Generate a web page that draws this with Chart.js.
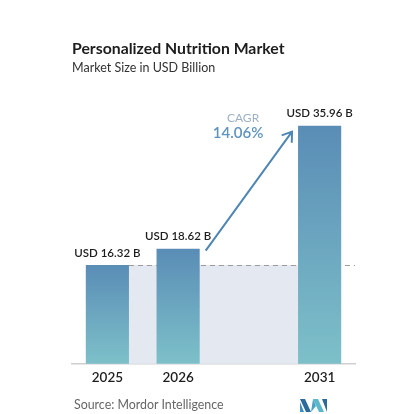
<!DOCTYPE html>
<html>
<head>
<meta charset="utf-8">
<script src="https://cdn.jsdelivr.net/npm/chart.js@4"></script>
<style>
  body { margin:0; background:#fff; font-family: Lato, "Open Sans", sans-serif; }
  #wrap { position:relative; width:415px; height:414px; }
  #title { position:absolute; left:72px; top:38px; font-size:15.8px; font-weight:700; color:#1d1d1d; }
  #subtitle { position:absolute; left:72px; top:60px; font-size:12.5px; color:#333; }
  #source { position:absolute; left:74px; top:397px; font-size:12.4px; color:#666; }
  #logo { position:absolute; left:300px; top:399px; }
  #box { position:absolute; left:0; top:0; width:415px; height:414px; }
</style>
</head>
<body>
<div id="wrap">
  <div id="box"><canvas id="mkt"></canvas></div>
  <div id="title">Personalized Nutrition Market</div>
  <div id="subtitle">Market Size in USD Billion</div>
  <div id="source">Source: Mordor Intelligence</div>
  <svg id="logo" width="27" height="13" viewBox="0 0 27 13">
    <polygon points="0,0 5,0 11,13 6,13" fill="#2b6a9b"/>
    <polygon points="0,3 4,13 0,13" fill="#3f8fc0"/>
    <polygon points="13,0 18,0 24,13 19,13" fill="#5bb7c9"/>
    <polygon points="22,0 27,0 27,13" fill="#2b6a9b"/>
    <polygon points="11,13 13,0 16,7" fill="#4aa3c4"/>
  </svg>
</div>
<script>
var years = ["2025", "2026", "", "2031"];
var values = [16.32, 18.62, null, 35.96];
var valueLabels = ["USD 16.32 B", "USD 18.62 B", "", "USD 35.96 B"];
var cagrLabel = "CAGR";
var cagrValue = "14.06%";

var annotate = {
  id: 'annotate',
  beforeDatasetsDraw: function(chart){
    var ctx = chart.ctx, area = chart.chartArea;
    var bars = chart.getDatasetMeta(0).data;
    var yBase = chart.scales.y.getPixelForValue(values[0]);
    var x0 = bars[0].x + bars[0].width/2;
    var x1 = bars[3].x - bars[3].width/2;
    ctx.save();
    ctx.fillStyle = '#e4e9f1';
    ctx.fillRect(x0, yBase, x1 - x0, area.bottom - yBase);
    ctx.strokeStyle = '#9a9a9a';
    ctx.lineWidth = 1;
    ctx.setLineDash([5,4]);
    ctx.beginPath();
    ctx.moveTo(x0, yBase + 0.5);
    ctx.lineTo(area.right, yBase + 0.5);
    ctx.stroke();
    ctx.restore();
  },
  afterDatasetsDraw: function(chart){
    var ctx = chart.ctx;
    var bars = chart.getDatasetMeta(0).data;
    ctx.save();
    ctx.fillStyle = '#1d1d1d';
    ctx.font = '600 11.5px Lato, sans-serif';
    ctx.textAlign = 'center';
    ctx.textBaseline = 'middle';
    bars.forEach(function(b, i){
      if (values[i] == null) return;
      ctx.fillText(valueLabels[i], b.x, b.y - 12);
    });
    // arrow
    var b1 = bars[1], b3 = bars[3];
    var sx = b1.x + b1.width/2 + 6, sy = b1.y + 2;
    var ex = b3.x - b3.width/2 - 6, ey = b3.y + 6;
    ctx.strokeStyle = '#4f86b3';
    ctx.lineWidth = 2;
    ctx.beginPath();
    ctx.moveTo(sx, sy); ctx.lineTo(ex, ey);
    var ang = Math.atan2(ey - sy, ex - sx);
    ctx.moveTo(ex - 11*Math.cos(ang - 0.6), ey - 11*Math.sin(ang - 0.6));
    ctx.lineTo(ex, ey);
    ctx.lineTo(ex - 11*Math.cos(ang + 0.6), ey - 11*Math.sin(ang + 0.6));
    ctx.stroke();
    ctx.fillStyle = '#9db1c6';
    ctx.font = '12px Lato, sans-serif';
    ctx.fillText(cagrLabel, ex - 49, ey - 14);
    ctx.fillStyle = '#5f93bf';
    ctx.font = '600 15px Lato, sans-serif';
    ctx.fillText(cagrValue, ex - 54, ey + 1);
    ctx.restore();
  }
};

new Chart(document.getElementById('mkt'), {
  type: 'bar',
  data: {
    labels: years,
    datasets: [{
      data: values,
      backgroundColor: function(c){
        var chart = c.chart, area = chart.chartArea;
        if (!area || c.raw == null || !chart.scales.y) return '#6aa5c4';
        var top = chart.scales.y.getPixelForValue(c.raw);
        if (!isFinite(top)) return '#6aa5c4';
        var g = chart.ctx.createLinearGradient(0, top, 0, area.bottom);
        g.addColorStop(0, '#5a8db6');
        g.addColorStop(1, '#7dc0c9');
        return g;
      },
      barPercentage: 0.61,
      categoryPercentage: 1
    }]
  },
  options: {
    responsive: true,
    maintainAspectRatio: false,
    animation: false,
    layout: { padding: { left: 72, right: 60, top: 97, bottom: 22 } },
    plugins: { legend: { display: false }, tooltip: { enabled: false } },
    scales: {
      y: { display: false, min: 2.4, max: 40 },
      x: {
        grid: { display: false, drawTicks: false },
        border: { color: '#cfcfcf', width: 1.5 },
        ticks: { color: '#1d1d1d', padding: 6, font: { family: 'Lato, sans-serif', size: 13.5, weight: '600' } }
      }
    }
  },
  plugins: [annotate]
});
</script>
</body>
</html>
